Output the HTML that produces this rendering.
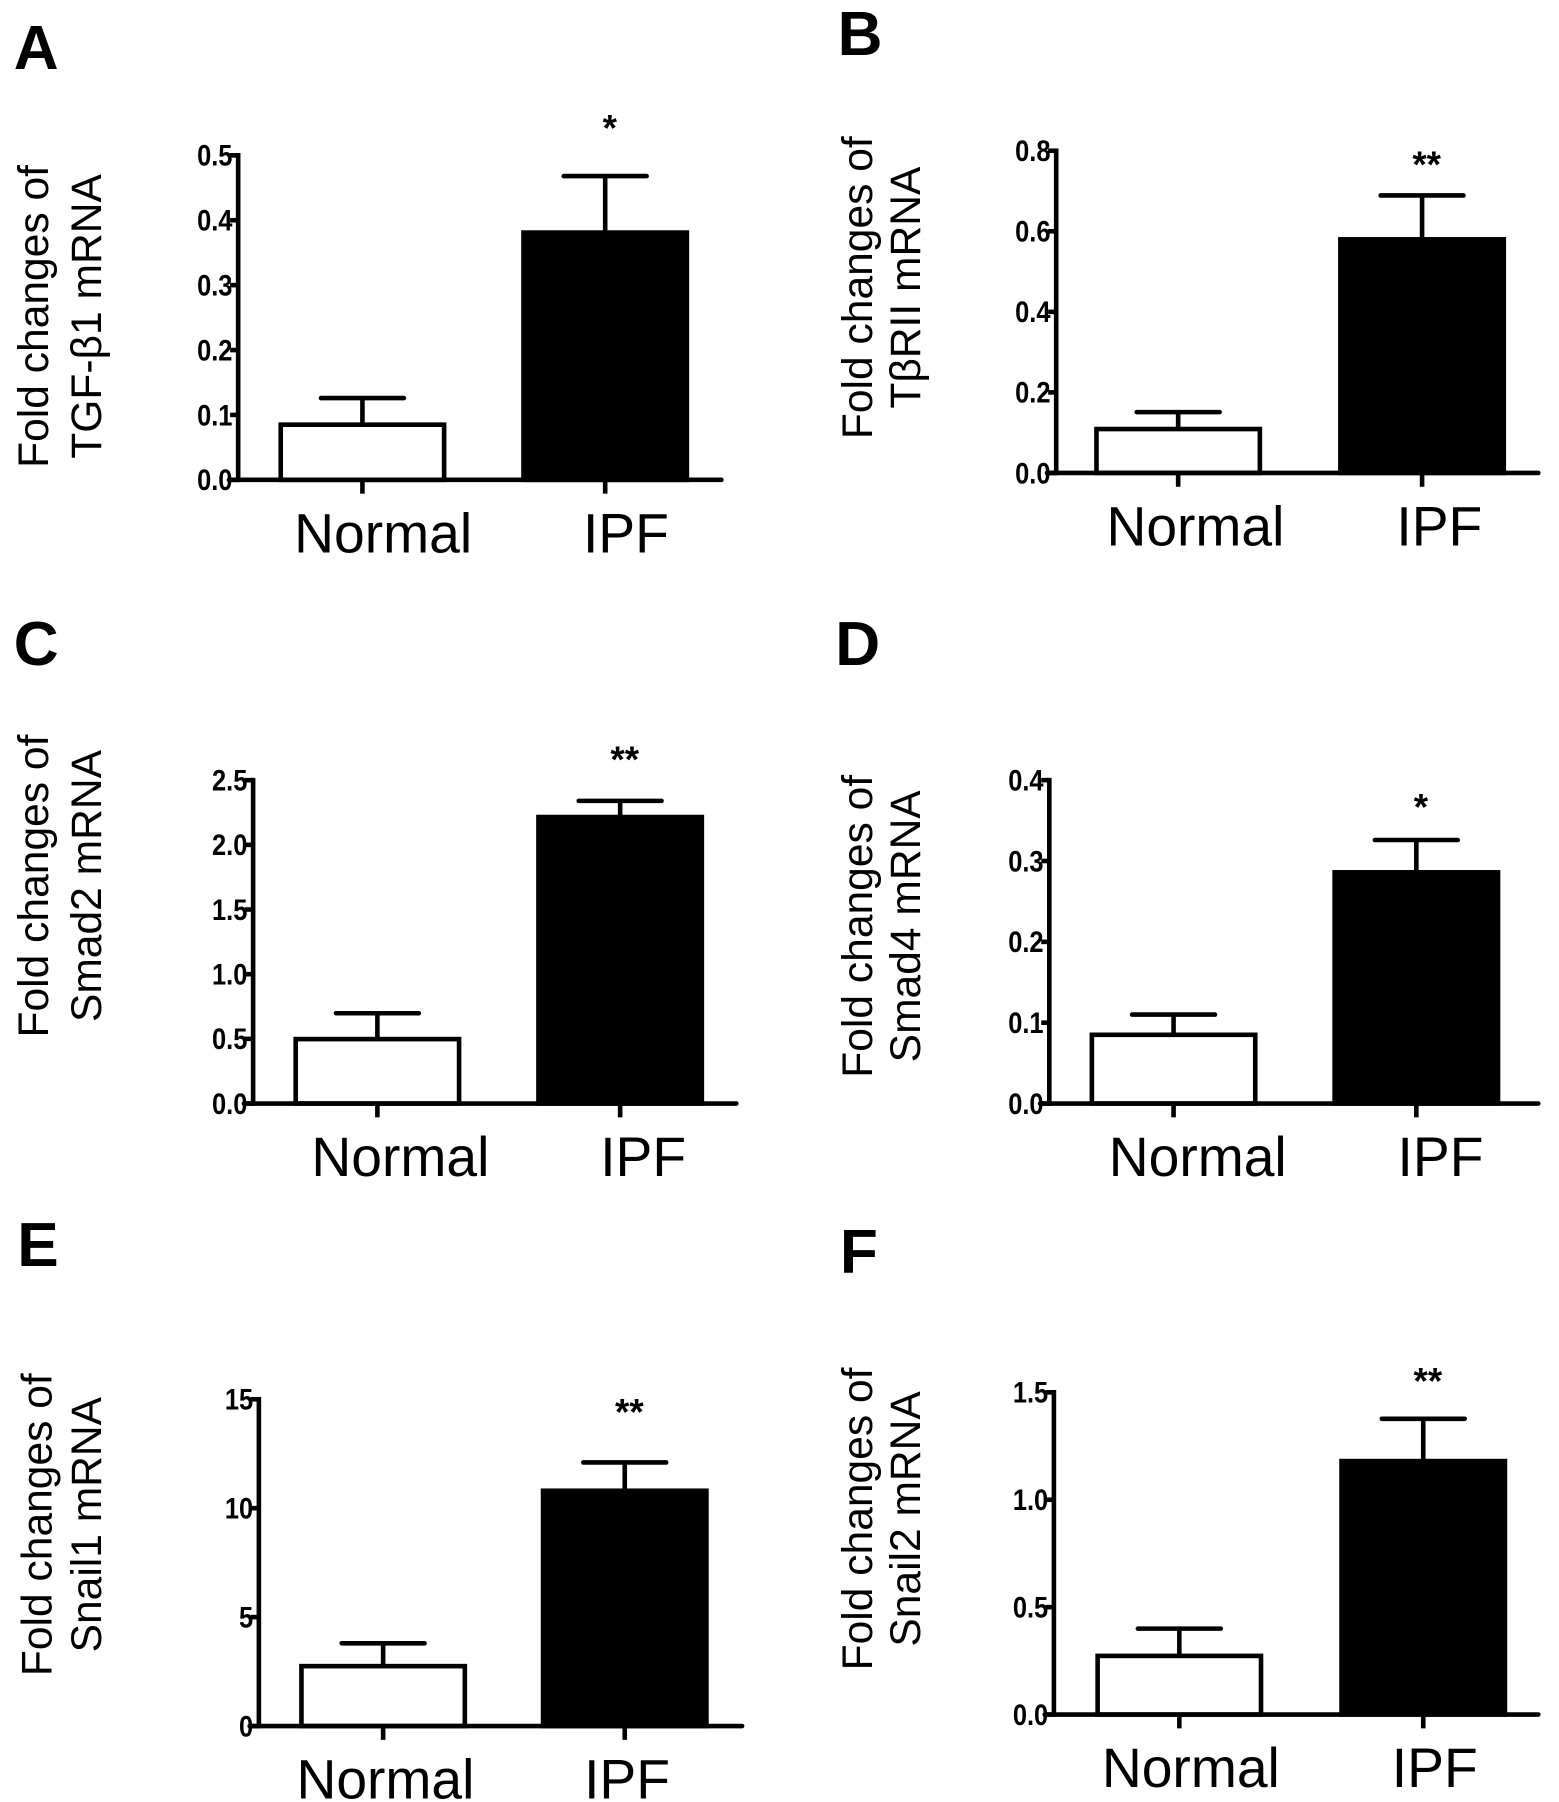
<!DOCTYPE html>
<html><head><meta charset="utf-8"><style>
html,body{margin:0;padding:0;background:#fff}
svg{display:block}
text{font-family:"Liberation Sans",sans-serif;fill:#000}
</style></head><body>
<svg id="fig" width="1559" height="1802" viewBox="0 0 1355 1566" preserveAspectRatio="none"></svg>
<script>
const categories = ["Normal", "IPF"];
const panelLetters = ["A","B","C","D","E","F"];
const yTitles = ["TGF-β1 mRNA","TβRII mRNA","Smad2 mRNA","Smad4 mRNA","Snail1 mRNA","Snail2 mRNA"];
const meansA = [0.085, 0.381];
const errorsA = [0.041, 0.087];
const meansB = [0.109, 0.58];
const errorsB = [0.042, 0.109];
const meansC = [0.498, 2.215];
const errorsC = [0.20, 0.125];
const meansD = [0.085, 0.286];
const errorsD = [0.025, 0.040];
const meansE = [2.75, 10.8];
const errorsE = [1.05, 1.3];
const meansF = [0.273, 1.18];
const errorsF = [0.127, 0.197];
const ticksA = ["0.0","0.1","0.2","0.3","0.4","0.5"];
const ticksB = ["0.0","0.2","0.4","0.6","0.8"];
const ticksC = ["0.0","0.5","1.0","1.5","2.0","2.5"];
const ticksD = ["0.0","0.1","0.2","0.3","0.4"];
const ticksE = ["0","5","10","15"];
const ticksF = ["0.0","0.5","1.0","1.5"];
const sigs = ["*","**","**","*","**","**"];

// layout (not data)
const layouts = [
 {ax:207,top:135,bot:417,right:627,b1:244,b2:455,letter:[12,60],yl:[32,78,275],starY:106,lo:18},
 {ax:918,top:131,bot:411,right:1337,b1:953,b2:1165,letter:[728,48],yl:[748,790,250],starY:138,lo:15},
 {ax:220,top:678,bot:959,right:640,b1:257,b2:468,letter:[12,578],yl:[32,78,770],starY:655,lo:20},
 {ax:912,top:678,bot:959,right:1337,b1:949,b2:1160,letter:[726,578],yl:[748,790,805],starY:696,lo:21},
 {ax:225,top:1216,bot:1500,right:645,b1:262,b2:472,letter:[15,1100],yl:[35,78,1325],starY:1222,lo:2},
 {ax:916,top:1210,bot:1490,right:1337,b1:954,b2:1166,letter:[730,1106],yl:[748,790,1320],starY:1195,lo:10}
];
const means=[meansA,meansB,meansC,meansD,meansE,meansF];
const errs=[errorsA,errorsB,errorsC,errorsD,errorsE,errorsF];
const ticks=[ticksA,ticksB,ticksC,ticksD,ticksE,ticksF];
const svg=document.getElementById('fig');
const NS="http://www.w3.org/2000/svg";
function mk(tag,attrs,parent){const e=document.createElementNS(NS,tag);for(const k in attrs)e.setAttribute(k,attrs[k]);(parent||svg).appendChild(e);return e;}
const BW=142;
layouts.forEach((L,i)=>{
  const g=mk('g',{});
  
  
  const tk=ticks[i];
  const maxV=parseFloat(tk[tk.length-1]);
  const y=v=>L.bot-(v/maxV)*(L.bot-L.top);
  const lt=mk('text',{x:L.letter[0],y:L.letter[1],'font-size':54,'font-weight':'bold'},g);
  lt.textContent=panelLetters[i];
  
  
  const yt=mk('text',{transform:`translate(${L.yl[0]},${L.yl[2]}) rotate(-90)`,'text-anchor':'middle','font-size':37,'dominant-baseline':'middle'},g);
  yt.textContent='Fold changes of';
  
  
  const yt2=mk('text',{transform:`translate(${L.yl[1]},${L.yl[2]}) rotate(-90)`,'text-anchor':'middle','font-size':37,'dominant-baseline':'middle'},g);
  yt2.textContent=yTitles[i];
  
  
  [L.b1,L.b2].forEach((bx,j)=>{
    const v=means[i][j], e=errs[i][j], cx=bx+BW/2;
    const ln=mk('line',{x1:cx,x2:cx,y1:y(v),y2:y(v+e),stroke:'#000','stroke-width':4},g);
    
    
    const cap=mk('line',{x1:cx-36,x2:cx+36,y1:y(v+e),y2:y(v+e),stroke:'#000','stroke-width':4,'stroke-linecap':'round'},g);
    
    
    const r=mk('rect',{x:bx,y:y(v),width:BW,height:L.bot-y(v),fill:j?'#000':'#fff',stroke:'#000','stroke-width':4},g);
    
    
    const tm=mk('line',{x1:cx,x2:cx,y1:L.bot,y2:L.bot+12,stroke:'#000','stroke-width':4},g);
    
    
    const cl=mk('text',{x:cx+L.lo,y:L.bot+63,'text-anchor':'middle','font-size':48},g);
    cl.textContent=categories[j];
    
    
  });
  const st=mk('text',{x:L.b2+BW/2+4,y:L.starY+16,'text-anchor':'middle','font-size':32,'font-weight':'bold'},g);
  st.textContent=sigs[i];
  
  
  const ya=mk('line',{x1:L.ax,x2:L.ax,y1:L.top-2,y2:L.bot+2,stroke:'#000','stroke-width':4},g);
  
  
  const xa=mk('line',{x1:L.ax-8,x2:L.right,y1:L.bot,y2:L.bot,stroke:'#000','stroke-width':4,'stroke-linecap':'round'},g);
  
  
  tk.forEach(t=>{
    const yy=y(parseFloat(t));
    const tl=mk('line',{x1:L.ax-7,x2:L.ax,y1:yy,y2:yy,stroke:'#000','stroke-width':4},g);
    
    
    const tt=mk('text',{x:0,y:0,'text-anchor':'end','font-size':26,'font-weight':'bold',transform:`translate(${L.ax-5},${yy+9}) scale(0.85,1)`},g);
    tt.textContent=t;
    
    
  });
});
</script>
</body></html>
